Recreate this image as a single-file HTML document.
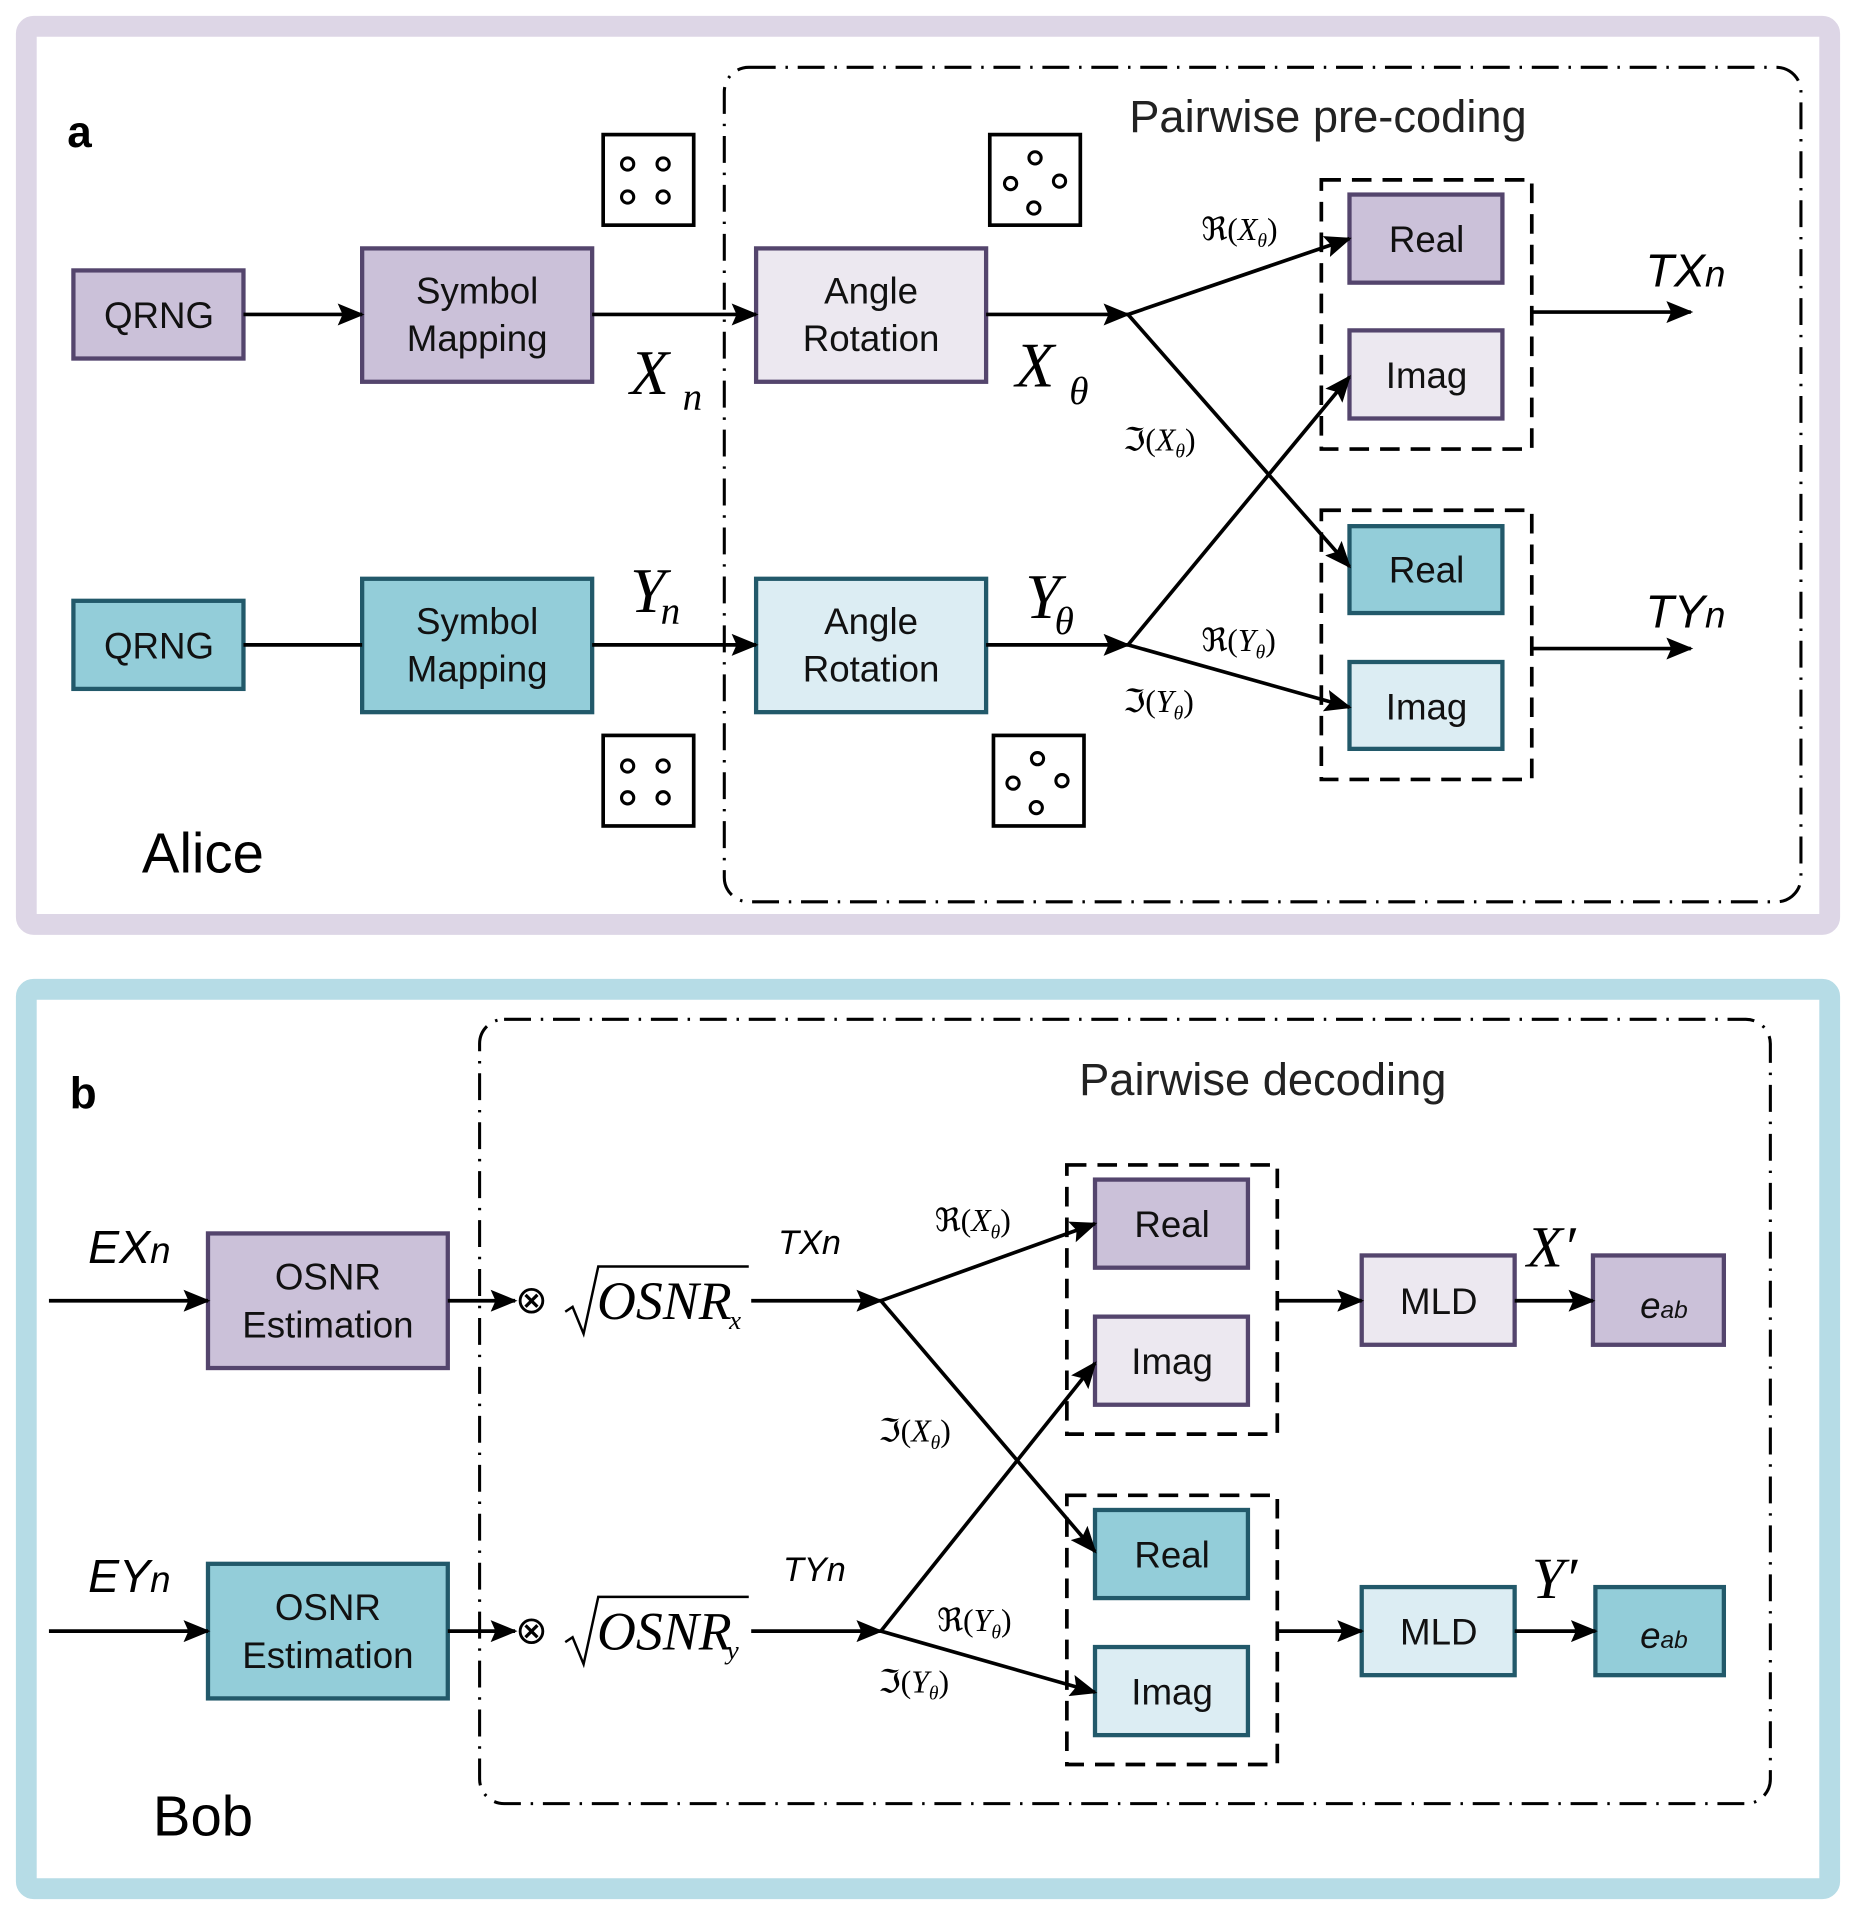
<!DOCTYPE html>
<html><head><meta charset="utf-8"><style>
html,body{margin:0;padding:0;background:#fff}
svg{display:block}
text{font-family:"Liberation Sans",sans-serif}
.m text,.s text{font-family:"Liberation Serif",serif}
.m text{font-style:italic}
</style></head><body>
<svg width="1856" height="1915" viewBox="0 0 1517 1565" preserveAspectRatio="none" xmlns="http://www.w3.org/2000/svg">
<defs>
<marker id="ar" markerWidth="22" markerHeight="18" refX="20" refY="9" orient="auto" markerUnits="userSpaceOnUse" viewBox="0 0 22 18">
<path d="M0,0 L22,9 L0,18 L4,9 Z" fill="#000"/></marker>
</defs>
<rect x="21.5" y="21.5" width="1474" height="734" rx="6" fill="#fff" stroke="#ddd6e6" stroke-width="17"/>
<rect x="21.5" y="808.5" width="1474" height="735" rx="6" fill="#fff" stroke="#b6dce6" stroke-width="17"/>
<rect x="592" y="55" width="880" height="682" rx="20" fill="none" stroke="#000" stroke-width="2.5" stroke-dasharray="22,8,2,8"/>
<rect x="392" y="833" width="1055" height="641" rx="20" fill="none" stroke="#000" stroke-width="2.5" stroke-dasharray="22,8,2,8"/>

<g stroke-width="3.5">
<rect x="60" y="221" width="139" height="72" fill="#cbc1d9" stroke="#54456d"/>
<rect x="296" y="203" width="188" height="109" fill="#cbc1d9" stroke="#54456d"/>
<rect x="618" y="203" width="188" height="109" fill="#ece8f0" stroke="#54456d"/>
<rect x="1103" y="159" width="125" height="72" fill="#cbc1d9" stroke="#54456d"/>
<rect x="1103" y="270" width="125" height="72" fill="#ece8f0" stroke="#54456d"/>
<rect x="60" y="491" width="139" height="72" fill="#93cdd9" stroke="#22596a"/>
<rect x="296" y="473" width="188" height="109" fill="#93cdd9" stroke="#22596a"/>
<rect x="618" y="473" width="188" height="109" fill="#dcedf3" stroke="#22596a"/>
<rect x="1103" y="430" width="125" height="71" fill="#93cdd9" stroke="#22596a"/>
<rect x="1103" y="541" width="125" height="71" fill="#dcedf3" stroke="#22596a"/>
<rect x="170" y="1008" width="196" height="110" fill="#cbc1d9" stroke="#54456d"/>
<rect x="170" y="1278" width="196" height="110" fill="#93cdd9" stroke="#22596a"/>
<rect x="895" y="964" width="125" height="72" fill="#cbc1d9" stroke="#54456d"/>
<rect x="895" y="1076" width="125" height="72" fill="#ece8f0" stroke="#54456d"/>
<rect x="895" y="1234" width="125" height="72" fill="#93cdd9" stroke="#22596a"/>
<rect x="895" y="1346" width="125" height="72" fill="#dcedf3" stroke="#22596a"/>
<rect x="1113" y="1026" width="125" height="73" fill="#ece8f0" stroke="#54456d"/>
<rect x="1302" y="1026" width="107" height="73" fill="#cbc1d9" stroke="#54456d"/>
<rect x="1113" y="1297" width="125" height="72" fill="#dcedf3" stroke="#22596a"/>
<rect x="1304" y="1297" width="105" height="72" fill="#93cdd9" stroke="#22596a"/>
</g>
<g fill="none" stroke="#000" stroke-width="3" stroke-dasharray="16,9">
<rect x="1080" y="147" width="172" height="220"/>
<rect x="1080" y="417" width="172" height="220"/>
<rect x="872" y="952" width="172" height="220"/>
<rect x="872" y="1222" width="172" height="220"/>
</g>
<g fill="#fff" stroke="#000" stroke-width="3">
<rect x="493" y="110" width="74" height="74"/>
<rect x="809" y="110" width="74" height="74"/>
<rect x="493" y="601" width="74" height="74"/>
<rect x="812" y="601" width="74" height="74"/>
</g>
<g fill="#fff" stroke="#000" stroke-width="2.5">
<circle cx="513" cy="134" r="5"/><circle cx="542" cy="134" r="5"/><circle cx="513" cy="161" r="5"/><circle cx="542" cy="161" r="5"/>
<circle cx="846" cy="129" r="5"/><circle cx="826" cy="150" r="5"/><circle cx="866" cy="148" r="5"/><circle cx="845" cy="170" r="5"/>
<circle cx="513" cy="626" r="5"/><circle cx="542" cy="626" r="5"/><circle cx="513" cy="652" r="5"/><circle cx="542" cy="652" r="5"/>
<circle cx="848" cy="620" r="5"/><circle cx="828" cy="640" r="5"/><circle cx="868" cy="638" r="5"/><circle cx="847" cy="660" r="5"/>
</g>
<g stroke="#000" stroke-width="3" fill="none">
<line x1="199" y1="257" x2="296" y2="257" marker-end="url(#ar)"/>
<line x1="484" y1="257" x2="618" y2="257" marker-end="url(#ar)"/>
<line x1="806" y1="257" x2="922" y2="257" marker-end="url(#ar)"/>
<line x1="922" y1="257" x2="1103" y2="195" marker-end="url(#ar)"/>
<line x1="922" y1="257" x2="1103" y2="463" marker-end="url(#ar)"/>
<line x1="199" y1="527" x2="296" y2="527"/>
<line x1="484" y1="527" x2="618" y2="527" marker-end="url(#ar)"/>
<line x1="806" y1="527" x2="922" y2="527" marker-end="url(#ar)"/>
<line x1="922" y1="527" x2="1103" y2="308" marker-end="url(#ar)"/>
<line x1="922" y1="527" x2="1103" y2="578" marker-end="url(#ar)"/>
<line x1="1252" y1="255" x2="1382" y2="255" marker-end="url(#ar)"/>
<line x1="1252" y1="530" x2="1382" y2="530" marker-end="url(#ar)"/>
<line x1="40" y1="1063" x2="170" y2="1063" marker-end="url(#ar)"/>
<line x1="366" y1="1063" x2="421" y2="1063" marker-end="url(#ar)"/>
<line x1="614" y1="1063" x2="720" y2="1063" marker-end="url(#ar)"/>
<line x1="720" y1="1063" x2="895" y2="1000" marker-end="url(#ar)"/>
<line x1="720" y1="1063" x2="895" y2="1268" marker-end="url(#ar)"/>
<line x1="40" y1="1333" x2="170" y2="1333" marker-end="url(#ar)"/>
<line x1="366" y1="1333" x2="421" y2="1333" marker-end="url(#ar)"/>
<line x1="614" y1="1333" x2="720" y2="1333" marker-end="url(#ar)"/>
<line x1="720" y1="1333" x2="895" y2="1114" marker-end="url(#ar)"/>
<line x1="720" y1="1333" x2="895" y2="1383" marker-end="url(#ar)"/>
<line x1="1044" y1="1063" x2="1113" y2="1063" marker-end="url(#ar)"/>
<line x1="1238" y1="1063" x2="1302" y2="1063" marker-end="url(#ar)"/>
<line x1="1044" y1="1333" x2="1113" y2="1333" marker-end="url(#ar)"/>
<line x1="1238" y1="1333" x2="1304" y2="1333" marker-end="url(#ar)"/>
<path d="M462,1072 L468,1068 L477,1090 L489,1035 L612,1035" stroke-width="2"/>
<path d="M462,1342 L468,1338 L477,1360 L489,1305 L612,1305" stroke-width="2"/>
</g>
<g font-size="30" text-anchor="middle" fill="#111">
<text x="130" y="268">QRNG</text>
<text x="390" y="248">Symbol</text><text x="390" y="287">Mapping</text>
<text x="712" y="248">Angle</text><text x="712" y="287">Rotation</text>
<text x="1166" y="206">Real</text>
<text x="1166" y="317">Imag</text>
<text x="130" y="538">QRNG</text>
<text x="390" y="518">Symbol</text><text x="390" y="557">Mapping</text>
<text x="712" y="518">Angle</text><text x="712" y="557">Rotation</text>
<text x="1166" y="476">Real</text>
<text x="1166" y="588">Imag</text>
<text x="268" y="1054">OSNR</text><text x="268" y="1093">Estimation</text>
<text x="268" y="1324">OSNR</text><text x="268" y="1363">Estimation</text>
<text x="958" y="1011">Real</text>
<text x="958" y="1123">Imag</text>
<text x="958" y="1281">Real</text>
<text x="958" y="1393">Imag</text>
<text x="1176" y="1074">MLD</text>
<text x="1176" y="1344">MLD</text>
</g>
<g font-size="30" font-style="italic" fill="#111" text-anchor="middle">
<text x="1360" y="1077">e<tspan font-size="20">ab</tspan></text>
<text x="1360" y="1347">e<tspan font-size="20">ab</tspan></text>
</g>
<text x="923" y="108" font-size="37" fill="#222">Pairwise pre-coding</text>
<text x="882" y="895" font-size="37" fill="#222">Pairwise decoding</text>
<text x="55" y="120" font-size="36" font-weight="bold">a</text>
<text x="57" y="906" font-size="36" font-weight="bold">b</text>
<text x="116" y="713" font-size="46">Alice</text>
<text x="125" y="1500" font-size="46">Bob</text>
<g font-size="38" font-style="italic">
<text x="1345" y="234">TX<tspan font-size="30">n</tspan></text>
<text x="1345" y="513">TY<tspan font-size="30">n</tspan></text>
<text x="72" y="1032">EX<tspan font-size="30">n</tspan></text>
<text x="72" y="1301">EY<tspan font-size="30">n</tspan></text>
</g>
<g font-size="28" font-style="italic">
<text x="636" y="1025">TXn</text>
<text x="640" y="1292">TYn</text>
</g>
<g class="m" fill="#000">
<text x="515" y="322" font-size="52">X</text><text x="558" y="335" font-size="32">n</text>
<text x="830" y="316" font-size="52">X</text><text x="874" y="330" font-size="32">θ</text>
<text x="515" y="500" font-size="52">Y</text><text x="540" y="510" font-size="32">n</text>
<text x="838" y="505" font-size="52">Y</text><text x="862" y="518" font-size="32">θ</text>
<text x="1248" y="1035" font-size="48">X′</text>
<text x="1252" y="1306" font-size="48">Y′</text>
<text x="488" y="1078" font-size="44">OSNR</text><text x="596" y="1086" font-size="22">x</text>
<text x="488" y="1348" font-size="44">OSNR</text><text x="594" y="1356" font-size="22">y</text>
</g>
<g class="s" font-size="26" fill="#000">
<text x="982" y="196">ℜ(<tspan font-style="italic">X</tspan><tspan font-size="16" font-style="italic" dy="6">θ</tspan><tspan dy="-6">)</tspan></text>
<text x="918" y="368">ℑ(<tspan font-style="italic">X</tspan><tspan font-size="16" font-style="italic" dy="6">θ</tspan><tspan dy="-6">)</tspan></text>
<text x="982" y="532">ℜ(<tspan font-style="italic">Y</tspan><tspan font-size="16" font-style="italic" dy="6">θ</tspan><tspan dy="-6">)</tspan></text>
<text x="918" y="582">ℑ(<tspan font-style="italic">Y</tspan><tspan font-size="16" font-style="italic" dy="6">θ</tspan><tspan dy="-6">)</tspan></text>
<text x="764" y="1006">ℜ(<tspan font-style="italic">X</tspan><tspan font-size="16" font-style="italic" dy="6">θ</tspan><tspan dy="-6">)</tspan></text>
<text x="718" y="1178">ℑ(<tspan font-style="italic">X</tspan><tspan font-size="16" font-style="italic" dy="6">θ</tspan><tspan dy="-6">)</tspan></text>
<text x="766" y="1333">ℜ(<tspan font-style="italic">Y</tspan><tspan font-size="16" font-style="italic" dy="6">θ</tspan><tspan dy="-6">)</tspan></text>
<text x="718" y="1383">ℑ(<tspan font-style="italic">Y</tspan><tspan font-size="16" font-style="italic" dy="6">θ</tspan><tspan dy="-6">)</tspan></text>
<text x="421" y="1073" font-size="32">⊗</text>
<text x="421" y="1343" font-size="32">⊗</text>
</g>
</svg>
</body></html>
